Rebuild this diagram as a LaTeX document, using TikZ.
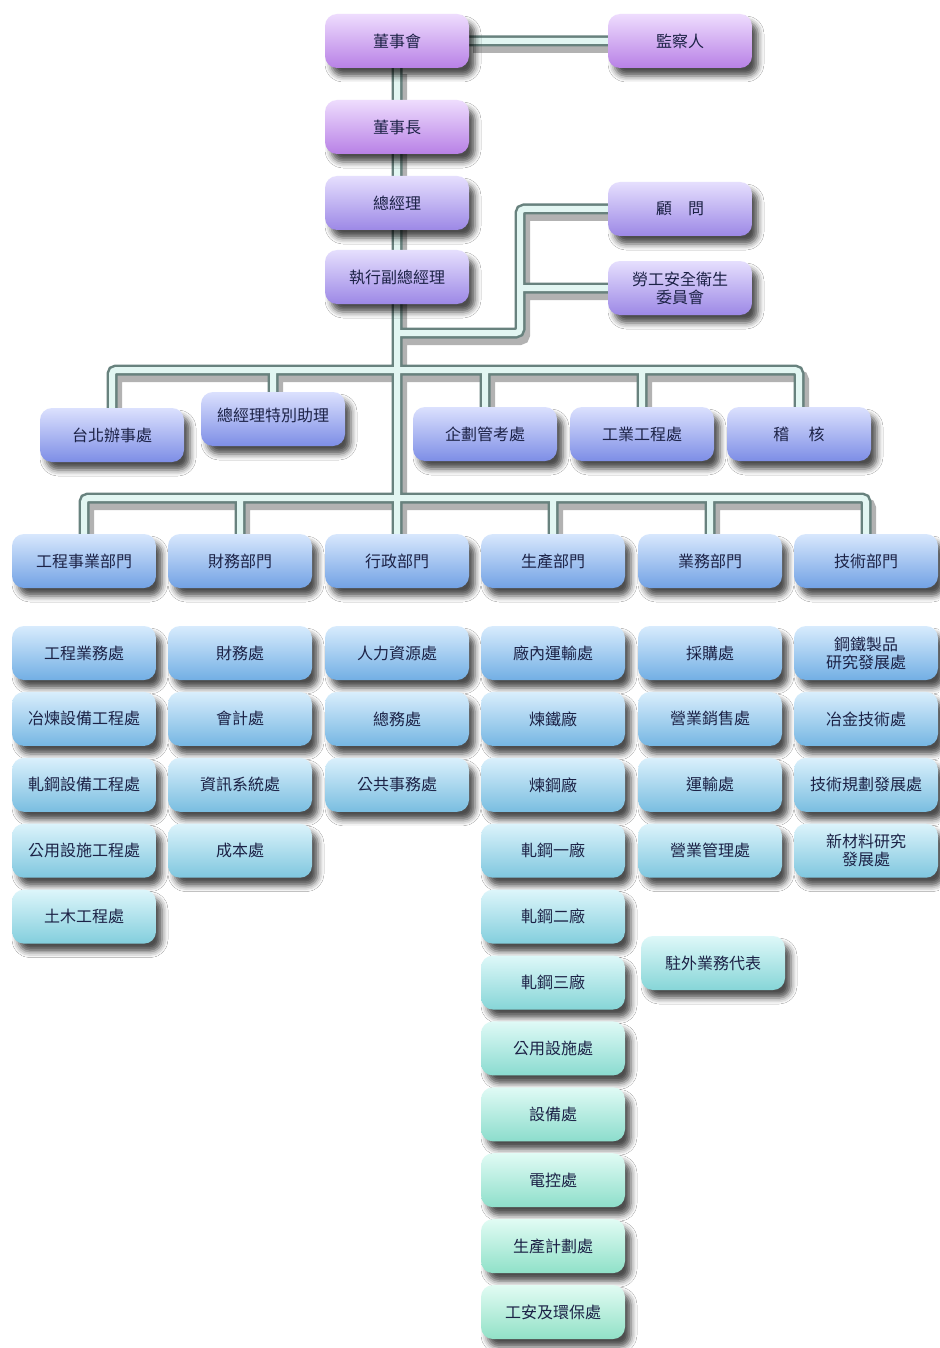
\documentclass[tikz,border=0pt]{standalone}
\usepackage{fontspec}
\newfontfamily\cjk{Noto Sans CJK TC}
\usetikzlibrary{shadows.blur,backgrounds}
\definecolor{purpA}{RGB}{200,140,250}
\definecolor{violA}{RGB}{170,148,250}
\definecolor{rowB}{RGB}{136,154,250}
\definecolor{deptC}{RGB}{124,176,248}
\definecolor{u1}{RGB}{124,190,248}
\definecolor{u2}{RGB}{128,198,246}
\definecolor{u3}{RGB}{132,206,244}
\definecolor{u4}{RGB}{138,216,242}
\definecolor{u5}{RGB}{142,224,240}
\definecolor{u6}{RGB}{146,232,234}
\definecolor{u7}{RGB}{150,238,226}
\definecolor{u8}{RGB}{152,240,222}
\definecolor{u9}{RGB}{154,242,220}
\definecolor{u10}{RGB}{156,244,218}
\definecolor{u11}{RGB}{158,244,216}
\definecolor{txtc}{RGB}{28,34,70}
\definecolor{pipeo}{RGB}{104,130,126}
\definecolor{pipei}{RGB}{226,246,242}
\begin{document}
\begin{tikzpicture}[x=1pt,y=-1pt,
  box/.style={rounded corners=12pt, minimum width=144pt, minimum height=54pt,
    inner sep=2pt, align=center, text=txtc,
    font=\cjk\fontsize{16}{18}\selectfont,
    blur shadow={shadow xshift=6pt, shadow yshift=-8pt, shadow blur radius=6pt, shadow opacity=70}},
  fillc/.style={top color=#1!30!white, middle color=#1, bottom color=#1!92!black},
  pipeshadow/.style={line width=12pt, black, opacity=0.3, rounded corners=4pt,
    transform canvas={shift={(4pt,-6pt)}}},
  pipeout/.style={line width=11pt, draw=pipeo, rounded corners=4pt},
  pipein/.style={line width=6pt, draw=pipei, rounded corners=4pt}]
\useasboundingbox (0,0) rectangle (939,1348);
% top
\node[box,fillc=purpA] (board) at (397,41) {董事會};
\node[box,fillc=purpA] (sup) at (680,41) {監察人};
\node[box,fillc=purpA] (chair) at (397,127) {董事長};
\node[box,fillc=violA] (gm) at (397,203) {總經理};
\node[box,fillc=violA] (egm) at (397,277) {執行副總經理};
\node[box,fillc=violA] (adv) at (680,209) {顧\hspace{1em}問};
\node[box,fillc=violA] (safety) at (680,288) {勞工安全衛生\\委員會};
% row 2
\node[box,fillc=rowB] (taipei) at (112,435) {台北辦事處};
\node[box,fillc=rowB] (assist) at (273,419) {\raisebox{8pt}{總經理特別助理}};
\node[box,fillc=rowB] (plan) at (485,434) {企劃管考處};
\node[box,fillc=rowB] (ie) at (642,434) {工業工程處};
\node[box,fillc=rowB] (audit) at (799,434) {稽\hspace{1.2em}核};
% departments
\node[box,fillc=deptC] (d1) at (84,561) {工程事業部門};
\node[box,fillc=deptC] (d2) at (240,561) {財務部門};
\node[box,fillc=deptC] (d3) at (397,561) {行政部門};
\node[box,fillc=deptC] (d4) at (553,561) {生產部門};
\node[box,fillc=deptC] (d5) at (710,561) {業務部門};
\node[box,fillc=deptC] (d6) at (866,561) {技術部門};
% units
\foreach \t [count=\i] in {工程業務處,冶煉設備工程處,軋鋼設備工程處,公用設施工程處,土木工程處}
  \node[box,fillc=u\i] (e\i) at (84,{653+65.9*(\i-1)}) {\t};
\foreach \t [count=\i] in {財務處,會計處,資訊系統處,成本處}
  \node[box,fillc=u\i] (f\i) at (240,{653+65.9*(\i-1)}) {\t};
\foreach \t [count=\i] in {人力資源處,總務處,公共事務處}
  \node[box,fillc=u\i] (h\i) at (397,{653+65.9*(\i-1)}) {\t};
\foreach \t [count=\i] in {廠內運輸處,煉鐵廠,煉鋼廠,軋鋼一廠,軋鋼二廠,軋鋼三廠,公用設施處,設備處,電控處,生產計劃處,工安及環保處}
  \node[box,fillc=u\i] (p\i) at (553,{653+65.9*(\i-1)}) {\t};
\foreach \t [count=\i] in {採購處,營業銷售處,運輸處,營業管理處}
  \node[box,fillc=u\i] (s\i) at (710,{653+65.9*(\i-1)}) {\t};
\node[box,fillc=u6] (s5) at (713,963) {駐外業務代表};
\foreach \t [count=\i] in {{鋼鐵製品\\研究發展處},冶金技術處,技術規劃發展處,{新材料研究\\發展處}}
  \node[box,fillc=u\i] (t\i) at (866,{653+65.9*(\i-1)}) {\t};
% junctions
\coordinate (a1) at (397,333);
\coordinate (a2) at (520,333);
\coordinate (b2) at (397,370);
\coordinate (b3) at (397,498);
\begin{pgfonlayer}{background}
\fill[white] (0,0) rectangle (939,1348);
\foreach \st in {pipeshadow,pipeout,pipein}{
  \draw[\st] (board.east) -- (sup.west)
    (board.south) -- (d3.north)
    (a1) -- (a2) |- (adv.west)
    (a2 |- safety.west) -- (safety.west)
    (taipei.north) |- (b2) -| (audit.north)
    (assist.north |- b2) -- (assist.north)
    (plan.north |- b2) -- (plan.north)
    (ie.north |- b2) -- (ie.north)
    (d1.north) |- (b3) -| (d6.north)
    (d2.north |- b3) -- (d2.north)
    (d4.north |- b3) -- (d4.north)
    (d5.north |- b3) -- (d5.north);
}
\end{pgfonlayer}
\end{tikzpicture}
\end{document}
